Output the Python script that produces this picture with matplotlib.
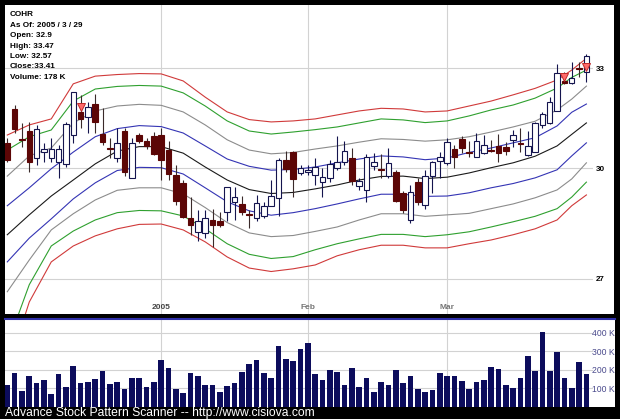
import matplotlib
matplotlib.use("Agg")
import matplotlib.pyplot as plt
from matplotlib.patches import Rectangle
from matplotlib.lines import Line2D
from matplotlib.ticker import NullLocator
import numpy as np

plt.rcParams["font.family"] = ["Liberation Sans", "DejaVu Sans"]

# ---- daily candles, 2004-12-02 .. 2005-03-29 (bar index 0..79) ----
opens = [30.73, 31.74, 30.85, 31.10, 30.29, 30.48, 30.31, 30.19, 30.12, 30.96,
         31.67, 31.50, 31.89, 30.99, 30.59, 30.31, 31.09, 29.74, 30.98, 30.78,
         30.93, 30.98, 30.53, 29.81, 29.58, 28.61, 28.24, 28.20, 28.56, 28.53,
         28.79, 29.06, 28.99, 28.71, 28.61, 28.67, 28.95, 29.16, 30.24, 30.48,
         29.86, 29.91, 29.81, 29.62, 29.72, 30.01, 30.19, 30.29, 29.51, 29.39,
         30.07, 29.97, 29.79, 29.89, 29.30, 28.56, 29.61, 28.97, 29.77, 30.21,
         30.15, 30.56, 30.85, 30.47, 30.34, 30.45, 30.52, 30.66, 30.63, 30.83,
         30.74, 30.38, 30.48, 31.27, 31.32, 31.70, 32.61, 32.54, 33.00, 32.90]
highs = [30.88, 31.87, 31.32, 31.37, 31.27, 30.73, 30.88, 30.68, 31.37, 32.27,
         32.18, 31.97, 32.20, 31.77, 30.88, 31.17, 31.17, 30.88, 31.02, 30.88,
         31.07, 31.17, 30.78, 30.09, 29.67, 29.20, 28.84, 28.84, 28.87, 28.79,
         29.47, 29.48, 29.23, 28.84, 29.25, 29.06, 29.67, 30.29, 30.51, 30.49,
         30.09, 30.09, 30.29, 30.01, 30.24, 30.93, 30.78, 30.60, 29.72, 30.41,
         30.43, 30.41, 30.58, 29.96, 29.35, 29.53, 29.72, 29.96, 30.21, 30.48,
         30.88, 30.68, 30.93, 30.78, 31.02, 30.98, 30.83, 31.00, 30.76, 31.12,
         31.17, 31.10, 31.37, 31.65, 32.10, 33.13, 32.90, 33.19, 33.21, 33.47]
lows = [30.19, 31.02, 30.63, 29.91, 30.09, 30.19, 30.19, 29.72, 30.05, 30.73,
        31.17, 31.02, 31.02, 30.68, 30.29, 30.19, 29.79, 29.72, 30.73, 30.56,
        30.38, 29.67, 29.67, 28.97, 28.61, 28.15, 27.98, 28.06, 27.82, 28.38,
        28.52, 28.56, 28.70, 28.35, 28.52, 28.61, 28.93, 28.68, 29.91, 29.18,
        29.81, 29.81, 29.53, 29.20, 29.62, 29.96, 30.09, 29.53, 29.39, 29.06,
        29.96, 29.72, 29.72, 29.06, 28.75, 28.47, 28.97, 28.86, 29.30, 29.72,
        30.09, 30.01, 30.43, 30.34, 30.33, 30.41, 30.48, 30.17, 30.38, 30.63,
        30.48, 30.36, 30.46, 31.17, 31.29, 31.69, 32.50, 32.51, 32.74, 32.57]
closes = [30.24, 31.15, 30.82, 30.19, 31.15, 30.56, 30.56, 30.56, 31.30, 32.26,
          31.45, 31.82, 31.37, 30.76, 30.57, 30.73, 29.91, 30.73, 30.78, 30.66,
          30.41, 30.24, 29.84, 29.09, 28.63, 28.42, 28.53, 28.61, 28.41, 28.42,
          29.46, 29.18, 28.79, 28.70, 29.02, 28.94, 29.21, 30.24, 29.98, 29.70,
          30.01, 29.95, 30.03, 29.75, 30.12, 30.19, 30.51, 29.64, 29.64, 30.34,
          30.17, 29.95, 30.15, 29.09, 28.82, 29.32, 29.06, 29.79, 30.17, 30.34,
          30.76, 30.34, 30.58, 30.45, 30.78, 30.68, 30.50, 30.43, 30.51, 30.96,
          30.72, 30.65, 31.32, 31.59, 31.95, 32.85, 32.56, 32.71, 32.97, 33.41]
volumes_k = [117, 186, 88, 169, 130, 146, 70, 178, 108, 222,
             130, 135, 151, 196, 124, 135, 97, 159, 155, 108,
             133, 254, 211, 95, 76, 186, 168, 117, 121, 83,
             114, 130, 189, 232, 252, 182, 159, 330, 258, 247,
             314, 344, 178, 146, 198, 189, 117, 209, 106, 155,
             79, 135, 119, 200, 130, 168, 97, 79, 92, 186,
             169, 166, 141, 97, 133, 146, 216, 205, 121, 103,
             159, 276, 195, 405, 195, 297, 159, 103, 243, 178]

# ---- envelope bands, read at these bar indices ----
band_idx = [0, 3, 6, 9, 12, 15, 18, 21, 24, 27, 30, 33, 36, 39,
            42, 45, 48, 51, 54, 57, 60, 63, 66, 69, 72, 75, 77, 79]
red_hi = [30.97, 31.27, 31.45, 32.52, 32.76, 32.81, 32.84, 32.83, 32.61, 32.11,
          31.66, 31.43, 31.36, 31.39, 31.45, 31.57, 31.69, 31.77, 31.75, 31.66,
          31.69, 31.84, 31.99, 32.18, 32.38, 32.64, 32.95, 33.32]
green_hi = [30.53, 30.92, 31.12, 31.99, 32.36, 32.44, 32.47, 32.45, 32.24, 31.84,
            31.39, 31.09, 31.00, 31.06, 31.13, 31.21, 31.33, 31.45, 31.42, 31.34,
            31.39, 31.54, 31.72, 31.87, 32.08, 32.39, 32.72, 32.95]
gray_hi = [29.78, 30.36, 30.59, 31.33, 31.69, 31.84, 31.89, 31.86, 31.66, 31.27,
           30.83, 30.53, 30.42, 30.46, 30.56, 30.65, 30.76, 30.86, 30.84, 30.79,
           30.83, 30.92, 31.06, 31.21, 31.38, 31.72, 32.05, 32.45]
blue_hi = [28.95, 29.45, 29.99, 30.47, 30.92, 31.16, 31.25, 31.22, 31.03, 30.65,
           30.27, 30.06, 29.95, 29.97, 30.04, 30.16, 30.27, 30.36, 30.33, 30.25,
           30.30, 30.46, 30.59, 30.74, 30.89, 31.24, 31.65, 31.90]
center = [28.16, 28.70, 29.22, 29.67, 30.13, 30.50, 30.63, 30.63, 30.44, 30.04,
          29.67, 29.40, 29.29, 29.32, 29.42, 29.53, 29.67, 29.77, 29.78, 29.71,
          29.75, 29.87, 30.02, 30.16, 30.35, 30.65, 30.99, 31.33]
blue_lo = [27.44, 28.07, 28.59, 29.14, 29.59, 29.94, 30.03, 30.02, 29.84, 29.45,
           29.06, 28.81, 28.69, 28.76, 28.87, 29.00, 29.14, 29.27, 29.27, 29.21,
           29.22, 29.31, 29.45, 29.57, 29.73, 29.96, 30.36, 30.74]
gray_lo = [26.67, 27.49, 28.29, 28.73, 29.11, 29.38, 29.45, 29.45, 29.28, 28.90,
           28.49, 28.21, 28.11, 28.14, 28.25, 28.37, 28.56, 28.73, 28.73, 28.66,
           28.70, 28.74, 28.87, 29.00, 29.17, 29.39, 29.70, 30.16]
green_lo = [25.35, 26.85, 27.86, 28.26, 28.56, 28.76, 28.82, 28.81, 28.67, 28.32,
            27.92, 27.64, 27.53, 27.58, 27.76, 27.92, 28.05, 28.17, 28.17, 28.11,
            28.16, 28.24, 28.37, 28.51, 28.66, 28.87, 29.19, 29.61]
red_lo = [24.75, 26.41, 27.44, 27.86, 28.13, 28.32, 28.44, 28.45, 28.29, 27.97,
          27.57, 27.28, 27.19, 27.26, 27.36, 27.60, 27.76, 27.88, 27.88, 27.81,
          27.81, 27.92, 28.02, 28.16, 28.32, 28.56, 28.95, 29.25]

signal_idx = [10, 76, 79]
signal_price = [31.82, 32.74, 33.04]

month_idx = [21, 41, 60]
month_labels = ["2005", "Feb", "Mar"]
price_ticks = [27, 30, 33]
vol_ticks = [100, 200, 300, 400]

info_lines = ["COHR", "As Of: 2005 / 3 / 29", "Open: 32.9", "High: 33.47",
              "Low: 32.57", "Close:33.41", "Volume: 178 K"]
footer = "Advance Stock Pattern Scanner -- http://www.cisiova.com"

# ------------------------------------------------------------
# layout in pixels
# ------------------------------------------------------------
W, H = 620, 419


def box(x0, y0, x1, y1):
    return [x0 / W, 1 - y1 / H, (x1 - x0) / W, (y1 - y0) / H]


fig = plt.figure(figsize=(W / 100, H / 100), dpi=100, facecolor="black")
fig.add_artist(Rectangle((5 / W, 1 - 314 / H), 609 / W, 309 / H, zorder=-10,
                         transform=fig.transFigure, facecolor="white", edgecolor="none"))
fig.add_artist(Rectangle((5 / W, 1 - 407 / H), 610 / W, 89 / H, zorder=-10,
                         transform=fig.transFigure, facecolor="white", edgecolor="none"))
fig.add_artist(Line2D([5 / W, 615 / W], [1 - 319 / H, 1 - 319 / H],
                      transform=fig.transFigure, color="#3030a8", lw=1.5))

ax = fig.add_axes(box(5, 5, 593, 314))
axv = fig.add_axes(box(5, 320, 593, 407))
xlim = (-0.31, 79.9)

# ------------------------------------------------------------
# price panel
# ------------------------------------------------------------
ax.set_facecolor("none")
ax.set_yscale("log")
ax.set_xlim(*xlim)
ax.set_ylim(26.11, 35.06)
for s in ax.spines.values():
    s.set_visible(False)

grid_c = "#d2d2d2"
for p in price_ticks:
    ax.axhline(p, color=grid_c, lw=0.8, zorder=0)
for m in month_idx:
    ax.axvline(m, color=grid_c, lw=0.8, zorder=0)

bands = [(red_hi, "#d03a3a"), (green_hi, "#2fa02f"), (gray_hi, "#8c8c8c"),
         (blue_hi, "#3434b4"), (center, "#1a1a1a"), (blue_lo, "#3434b4"),
         (gray_lo, "#8c8c8c"), (green_lo, "#2fa02f"), (red_lo, "#d03a3a")]
for vals, col in bands:
    ax.plot(band_idx, vals, color=col, lw=0.8, zorder=1)

o = np.array(opens)
c = np.array(closes)
hi = np.array(highs)
lo = np.array(lows)
xi = np.arange(len(o))
up = c >= o

up_col = "#14144e"
dn_col = "#5c0606"
ax.vlines(xi[up], lo[up], hi[up], color=up_col, lw=0.8, zorder=2)
ax.vlines(xi[~up], lo[~up], hi[~up], color="#3a2a2a", lw=0.8, zorder=2)
bottom = np.minimum(o, c)
height = np.abs(c - o)
ax.bar(xi[up], height[up], bottom=bottom[up], width=0.75,
       facecolor="white", edgecolor=up_col, lw=0.8, zorder=3)
ax.bar(xi[~up], height[~up], bottom=bottom[~up], width=0.75,
       facecolor=dn_col, edgecolor=dn_col, lw=0.8, zorder=3)

ax.plot(signal_idx, signal_price, linestyle="none", marker="v", ms=6,
        mfc="#ff6a6a", mec="#c02828", mew=0.7, zorder=4)

ax.yaxis.tick_right()
ax.yaxis.set_minor_locator(NullLocator())
ax.set_yticks(price_ticks)
ax.set_yticklabels([str(p) for p in price_ticks], fontsize=5.8,
                   fontweight="bold", color="black")
ax.tick_params(axis="y", length=0, pad=2)

ax.set_xticks(month_idx)
ax.set_xticklabels(month_labels, fontsize=6, fontweight="bold")
ax.tick_params(axis="x", length=0, pad=-7.5)
for lab, col in zip(ax.get_xticklabels(), ["#444444", "#777777", "#777777"]):
    lab.set_color(col)

for k, line in enumerate(info_lines):
    ax.text(5 / 588, 1 - (10 + 10.35 * k) / 309, line, transform=ax.transAxes,
            fontsize=5.9, fontweight="bold", color="black", va="center", ha="left",
            zorder=5)

# ------------------------------------------------------------
# volume panel
# ------------------------------------------------------------
axv.set_facecolor("none")
axv.set_xlim(*xlim)
axv.set_ylim(0, 470)
for s in axv.spines.values():
    s.set_visible(False)
for v in vol_ticks:
    axv.axhline(v, color=grid_c, lw=0.8, zorder=0)
for m in month_idx:
    axv.axvline(m, color=grid_c, lw=0.8, zorder=0)
axv.bar(xi, volumes_k, width=0.78, color="#0c0c5c", zorder=2)
axv.set_xticks([])
axv.yaxis.tick_right()
axv.set_yticks(vol_ticks)
axv.set_yticklabels([f"{v} K" for v in vol_ticks], fontsize=6.2, color="#4a4a8c")
axv.tick_params(axis="y", length=0, pad=-0.5)

fig.text(5 / W, 1 - 413 / H, footer, color="white", fontsize=8.7,
         va="center", ha="left")

fig.savefig("out.png", dpi=100, facecolor="black")
